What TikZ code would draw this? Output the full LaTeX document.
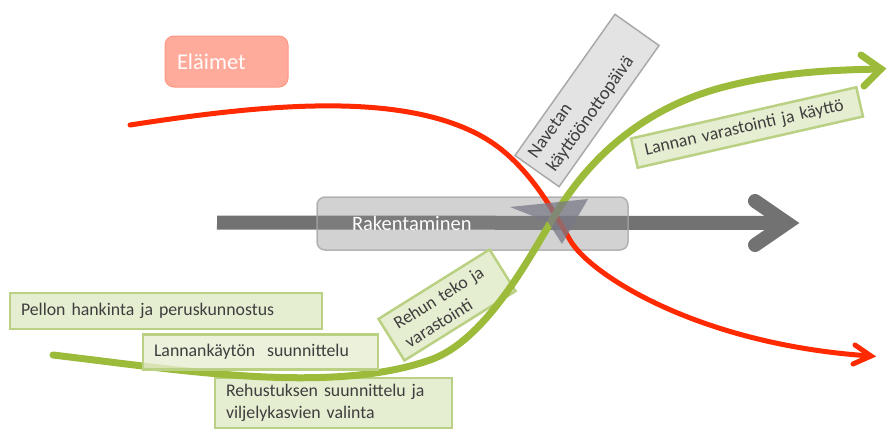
\documentclass[tikz,border=0pt]{standalone}
\usepackage{fontspec}
\setmainfont{Carlito}
\definecolor{redline}{HTML}{FF2A00}
\definecolor{greenline}{HTML}{9CBB3B}
\definecolor{grayarrow}{HTML}{727272}
\definecolor{gfill}{HTML}{E6EED2}
\definecolor{gborder}{HTML}{BAD082}
\definecolor{gtext}{HTML}{3E3E3E}
\definecolor{salmonfill}{HTML}{FFAB9C}
\definecolor{salmonborder}{HTML}{FF9783}
\definecolor{navfill}{HTML}{E3E3E3}
\definecolor{navborder}{HTML}{A9A9A9}
\begin{document}
\begin{tikzpicture}[x=1pt,y=-1pt,
  gbox/.style={draw=gborder, line width=2.5pt, fill=gfill, text=gtext,
    font=\fontsize{17.8}{21.5}\selectfont, align=left, inner xsep=11pt, inner ysep=0pt},
  navbox/.style={draw=navborder, line width=1.5pt, fill=navfill, text=gtext,
    font=\fontsize{18.5}{23}\selectfont, align=left, inner xsep=9pt, inner ysep=0pt},
  redpath/.style={draw=redline, line width=5pt, line cap=round},
  greenpath/.style={draw=greenline, line width=7pt, line cap=round},
  graypath/.style={draw=grayarrow, line width=14pt}
]
\useasboundingbox (0,0) rectangle (887,432);

% Eläimet
\node[draw=salmonborder, line width=1pt, fill=salmonfill, rounded corners=9pt,
  text=white!95!salmonfill, font=\fontsize{22.5}{24}\selectfont, align=left,
  minimum height=51pt, text width=99pt, inner xsep=12pt] (elaimet) at (226.5,61.5) {Eläimet};

% gray main arrow
\coordinate (g0) at (217,222.5);
\coordinate (g1) at (787,223);
\coordinate (gb1) at (755,201);
\coordinate (gb2) at (755,245);
\draw[graypath, line cap=butt] (g0) -- (g1);
\draw[graypath, line cap=round, line join=miter] (gb1) -- (g1) -- (gb2);

% Rakentaminen box
\node[draw=gray!70, line width=1.5pt, fill=black!45, fill opacity=0.39, draw opacity=0.8,
  text opacity=1, text=white, rounded corners=8pt, font=\fontsize{20.5}{22}\selectfont,
  align=left, minimum height=53pt, text width=241pt, inner xsep=35pt] (rak) at (472.5,223.5) {Rakentaminen};

% green text boxes below the curve
\node[gbox, minimum height=36pt, text width=290pt] (pellon) at (166,311) {Pellon hankinta ja peruskunnostus};
\node[gbox, minimum height=50pt, text width=215pt] (rehus) at (333.5,403) {Rehustuksen suunnittelu ja\\viljelykasvien valinta};
\node[gbox, minimum height=49pt, text width=109pt, rotate=32] (rehun) at (447,305) {Rehun teko ja\\varastointi};
\node[gbox, minimum height=30pt, text width=209pt, rotate=12.8] (lannan) at (747,127.5) {Lannan varastointi ja käyttö};
\node[navbox, minimum height=54pt, text width=155pt, rotate=54.7] (navetan) at (587,100.5) {Navetan\\käyttöönottopäivä};

% red curve
\coordinate (r0) at (130,125);
\coordinate (r1) at (483,137);
\coordinate (r2) at (570,240);
\coordinate (r3) at (871,356);
\coordinate (rb1) at (855,345);
\coordinate (rb2) at (853,364);
\draw[redpath] (r0) .. controls (260,105) and (400,90) .. (r1)
  .. controls (525,161) and (550,205) .. (r2)
  .. controls (590,275) and (700,345) .. (r3);
\draw[redpath, line join=miter] (rb1) -- (r3) -- (rb2);

% green curve
\coordinate (q0) at (53,355);
\coordinate (q1) at (430,360);
\coordinate (q2) at (560,207);
\coordinate (q3) at (720,88);
\coordinate (q4) at (881,69);
\coordinate (qb1) at (861,55);
\coordinate (qb2) at (864,86);
\draw[greenpath] (q0) .. controls (180,370) and (330,395) .. (q1)
  .. controls (490,339) and (535,246) .. (q2)
  .. controls (590,160) and (640,110) .. (q3)
  .. controls (780,72) and (830,70) .. (q4);
\draw[greenpath, line join=miter] (qb1) -- (q4) -- (qb2);

% Lannankaytön box over the curve
\node[gbox, fill opacity=0.8, text opacity=1, minimum height=35pt, text width=213pt] (lannank) at (260.5,352) {Lannankäytön\ \ suunnittelu};

% gray arrowhead shape at the crossing
\coordinate (h1) at (510,207);
\coordinate (h2) at (588,199);
\coordinate (h3) at (562,244);
\coordinate (h4) at (548,222);
\fill[gray!95!blue, opacity=0.75] (h1) -- (h2) -- (h3) -- (h4) -- cycle;
\end{tikzpicture}
\end{document}
